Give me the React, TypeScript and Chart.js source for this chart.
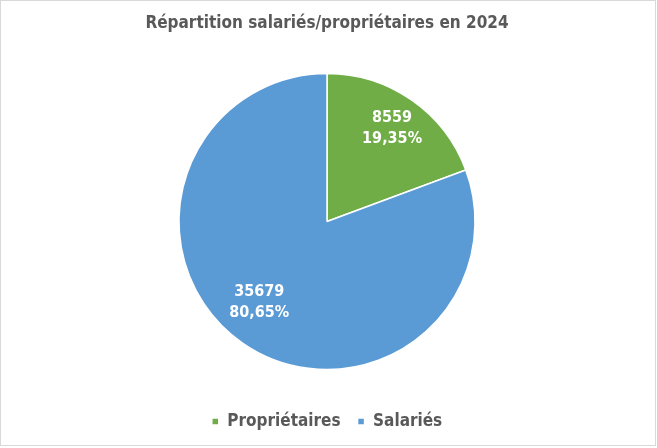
import React, { useEffect, useRef } from 'react';
import { Chart, registerables } from 'chart.js';

Chart.register(...registerables);

const titleText = 'Répartition salariés/propriétaires en 2024';
const categories = ['Propriétaires', 'Salariés'];
const values = [8559, 35679];
const colors = ['#70AD47', '#5B9BD5'];

const FONT = "'DejaVu Sans Condensed', 'DejaVu Sans', sans-serif";
const TEXT_COLOR = '#595959';

const total = values.reduce((a, b) => a + b, 0);
const percentLabels = values.map((v) => ((v / total) * 100).toFixed(2).replace('.', ',') + '%');

const sliceLabelPlugin = {
  id: 'sliceLabels',
  afterDatasetsDraw(chart: any, _args: any, opts: any) {
    const ctx = chart.ctx;
    const meta = chart.getDatasetMeta(0);
    ctx.save();
    ctx.fillStyle = '#FFFFFF';
    ctx.font = `bold ${opts.size}px ${FONT}`;
    ctx.textAlign = 'center';
    ctx.textBaseline = 'middle';
    meta.data.forEach((arc: any, i: number) => {
      const p = opts.placement[i];
      const mid = (arc.startAngle + arc.endAngle) / 2 + (p.dAngle * Math.PI) / 180;
      const r = arc.outerRadius * p.frac;
      const cx = arc.x + Math.cos(mid) * r;
      const cy = arc.y + Math.sin(mid) * r;
      ctx.fillText(String(values[i]), cx, cy - opts.lineGap / 2);
      ctx.fillText(percentLabels[i], cx, cy + opts.lineGap / 2);
    });
    ctx.restore();
  },
};

export default function App() {
  const ref = useRef<HTMLCanvasElement | null>(null);
  useEffect(() => {
    if (!ref.current) return;
    const chart = new Chart(ref.current, {
      type: 'pie',
      data: {
        labels: categories,
        datasets: [
          {
            data: values,
            backgroundColor: colors,
            borderColor: '#FFFFFF',
            borderWidth: 1.5,
            radius: 148,
          },
        ],
      },
      options: {
        responsive: false,
        animation: false,
        devicePixelRatio: 1,
        layout: { padding: { left: 0, right: 3, top: 0, bottom: 8 } },
        plugins: {
          title: {
            display: true,
            text: titleText,
            color: TEXT_COLOR,
            font: { family: FONT, size: 17, weight: 'bold' },
            padding: { top: 13, bottom: 13.6 },
          },
          legend: {
            position: 'bottom',
            labels: {
              color: TEXT_COLOR,
              font: { family: FONT, size: 17, weight: 'bold' },
              boxWidth: 7,
              boxHeight: 7,
              padding: 17,
            },
          },
          tooltip: { enabled: false },
          sliceLabels: {
            size: 16,
            lineGap: 21,
            placement: [
              { frac: 0.77, dAngle: 0 },
              { frac: 0.715, dAngle: 5 },
            ],
          },
        } as any,
      },
      plugins: [sliceLabelPlugin],
    });
    return () => chart.destroy();
  }, []);

  return (
    <div style={{ position: 'fixed', left: 0, top: 0, width: 657, height: 448, background: '#FFFFFF' }}>
      <canvas ref={ref} width={657} height={448} style={{ position: 'absolute', left: 0, top: 0 }} />
      <div
        style={{
          position: 'absolute',
          left: 0,
          top: 0,
          width: 654,
          height: 444,
          border: '1px solid #D9D9D9',
          pointerEvents: 'none',
        }}
      />
    </div>
  );
}
